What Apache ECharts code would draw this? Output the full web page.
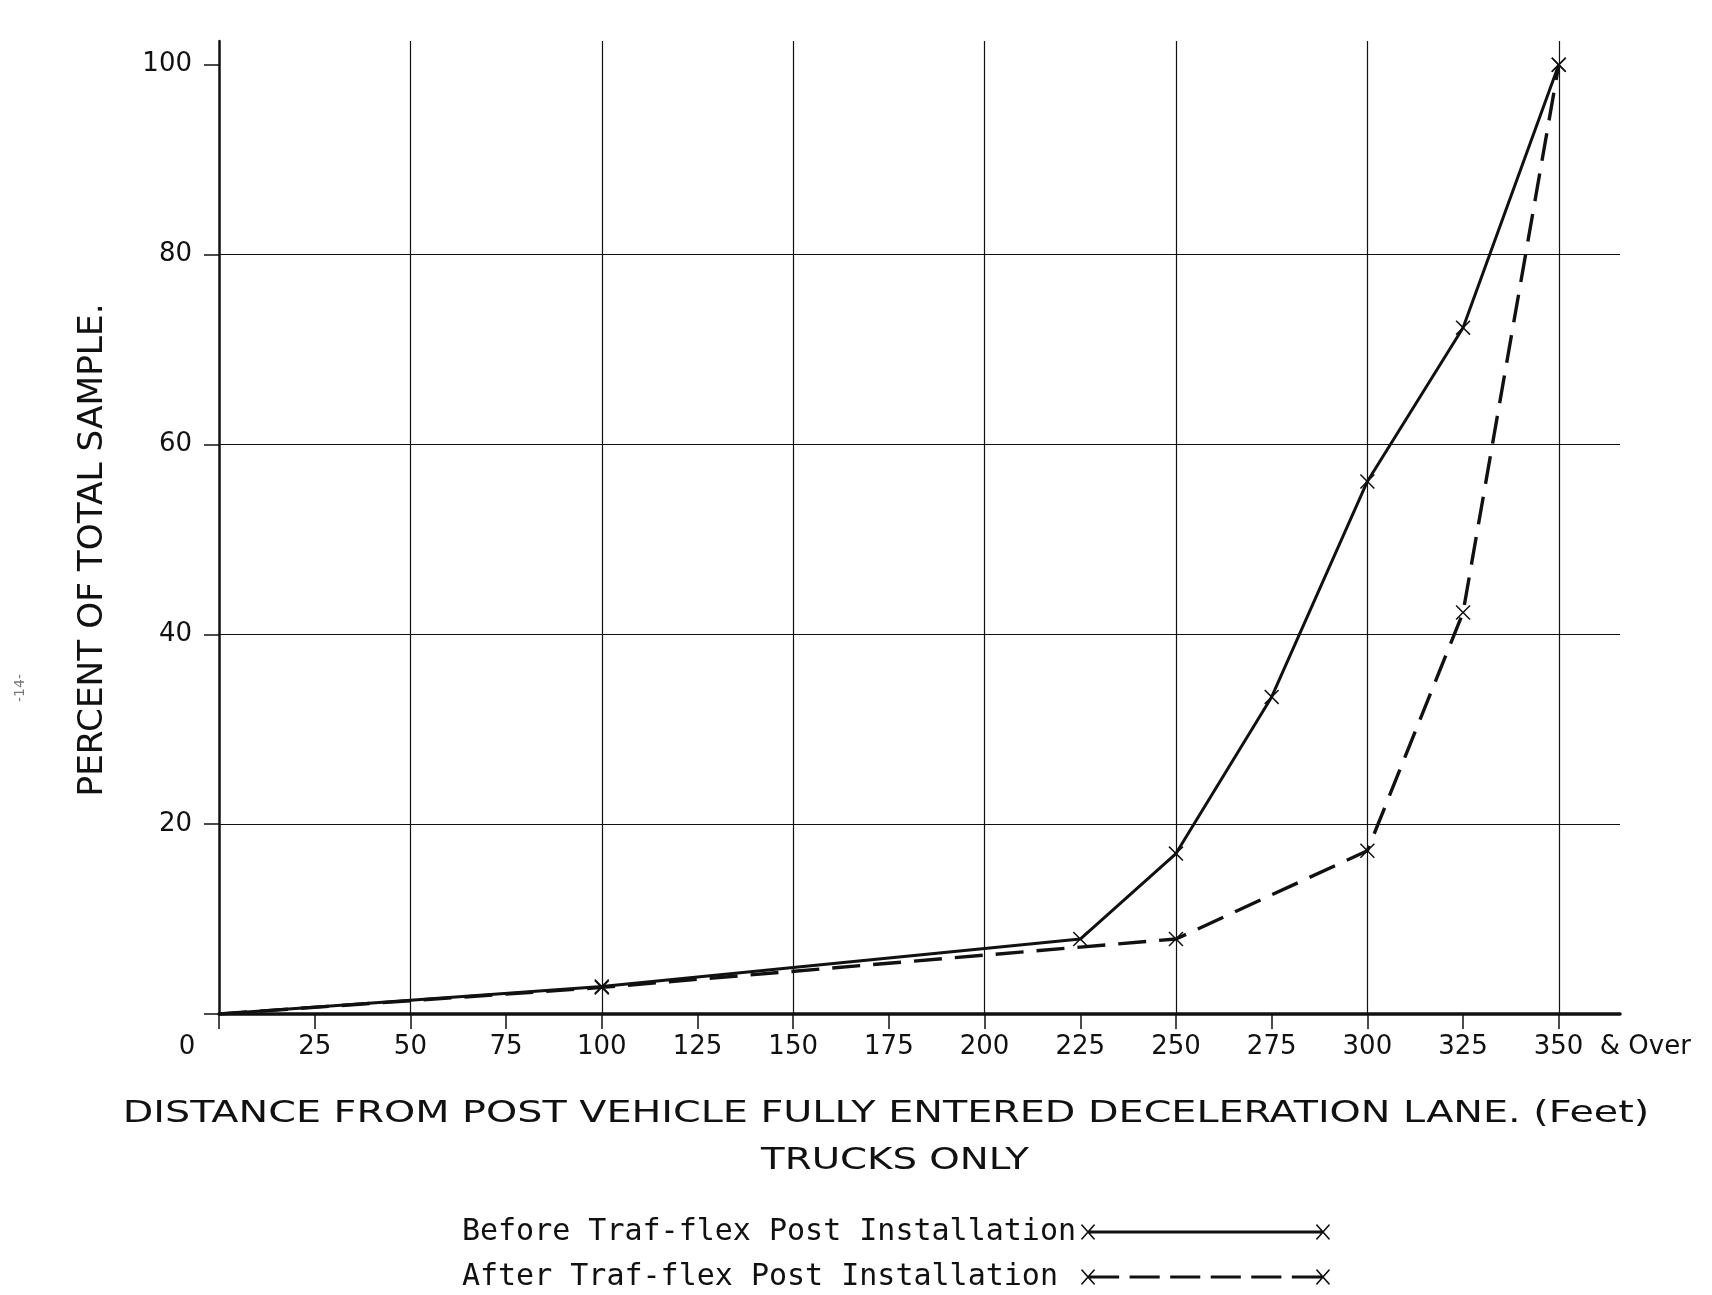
<!DOCTYPE html>
<html>
<head>
<meta charset="utf-8">
<title>Trucks only - distance from post</title>
<script src="https://cdn.jsdelivr.net/npm/echarts@6/dist/echarts.min.js"></script>
<style>
  html, body { margin: 0; padding: 0; background: #fff; }
  #chart { width: 1712px; height: 1295px; }
</style>
</head>
<body>
<div id="chart"></div>
<script>
// values (percent of total sample)
var beforeDist = [0, 100, 225, 250, 275, 300, 325, 350];
var beforePct  = [0, 2.9, 7.9, 16.9, 33.4, 56.1, 72.3, 100];
var afterDist  = [0, 100, 250, 300, 325, 350];
var afterPct   = [0, 2.8, 7.9, 17.2, 42.3, 100];

var xTicks = [0, 25, 50, 75, 100, 125, 150, 175, 200, 225, 250, 275, 300, 325, 350];
var yTicks = [0, 20, 40, 60, 80, 100];
var yLabels = [20, 40, 60, 80, 100];

var seriesNames = ['Before Traf-flex Post Installation', 'After Traf-flex Post Installation'];
var xTitle = 'DISTANCE FROM POST VEHICLE FULLY ENTERED DECELERATION LANE. (Feet)';
var xSubTitle = 'TRUCKS ONLY';
var yTitle = 'PERCENT OF TOTAL SAMPLE.';

var INK = '#111';
var FONT = 'DejaVu Sans';
var LABEL_SIZE = 26;

// "x" marker as a filled outline
function crossAt(cx, cy) {
    var p = [[-7,-6],[-6,-7],[0,-1],[6,-7],[7,-6],[1,0],[7,6],[6,7],[0,1],[-6,7],[-7,6],[-1,0]];
    return 'M' + p.map(function (d) { return (cx + d[0]) + ',' + (cy + d[1]); }).join('L') + 'Z';
}
var CROSS = 'path://' + crossAt(8, 8);

function legendIcon(dashed) {
    var s = crossAt(8, 8) + crossAt(242, 8);
    if (!dashed) {
        s += 'M9,6.7H241V9.3H9Z';
    } else {
        for (var i = 0; i < 6; i++) {
            var a = 9 + i * 40.4;
            s += 'M' + a + ',6.6H' + (a + 30) + 'V9.4H' + a + 'Z';
        }
    }
    return 'path://' + s;
}

function pairs(xs, ys) {
    return xs.map(function (x, i) { return [x, ys[i]]; });
}

function markerFor(value) {
    return value[0] === 0 ? 'none' : CROSS;
}

var chart = echarts.init(document.getElementById('chart'), null, { renderer: 'canvas' });

var option = {
    backgroundColor: '#fff',
    animation: false,
    grid: { left: 219, right: 92, top: 41, bottom: 281, outerBoundsMode: 'none' },
    legend: {
        orient: 'vertical',
        right: 382,
        top: 1217,
        padding: 0,
        itemGap: 15,
        itemWidth: 249,
        itemHeight: 16,
        align: 'right',
        symbolKeepAspect: false,
        selectedMode: false,
        itemStyle: { color: INK, borderWidth: 0 },
        textStyle: { fontFamily: 'DejaVu Sans Mono', fontSize: 30, color: INK },
        formatter: function (name) { return name.padEnd(34, ' '); },
        data: [
            { name: seriesNames[0], icon: legendIcon(false) },
            { name: seriesNames[1], icon: legendIcon(true) }
        ]
    },
    xAxis: [
        {
            type: 'value',
            min: 0,
            max: 366,
            interval: 25,
            axisLine: { show: true, onZero: false, lineStyle: { color: INK, width: 3.5 } },
            axisTick: { show: true, customValues: xTicks, length: 15, lineStyle: { color: INK, width: 1.5 } },
            axisLabel: {
                customValues: xTicks,
                margin: 20,
                fontFamily: FONT,
                fontSize: LABEL_SIZE,
                color: INK,
                formatter: function (v) {
                    if (v === 0) return '{z|0}';
                    if (v === 350) return '{a|350}{b|  & Over}';
                    return String(v);
                },
                rich: {
                    z: { padding: [0, 64, 0, 0], fontFamily: FONT, fontSize: LABEL_SIZE, color: INK },
                    a: { padding: [0, 0, 0, 107], fontFamily: FONT, fontSize: LABEL_SIZE, color: INK },
                    b: { fontFamily: FONT, fontSize: LABEL_SIZE, color: INK }
                }
            },
            splitLine: { show: false }
        },
        {
            // carries only the vertical grid lines every 50 ft
            type: 'value',
            min: 0,
            max: 366,
            interval: 50,
            axisLine: { show: false },
            axisTick: { show: false },
            axisLabel: { show: false },
            splitLine: { show: true, showMinLine: false, showMaxLine: false, lineStyle: { color: INK, width: 1.2 } }
        }
    ],
    yAxis: {
        type: 'value',
        min: 0,
        max: 102.5,
        interval: 20,
        axisLine: { show: true, lineStyle: { color: INK, width: 2.5 } },
        axisTick: { show: true, customValues: yTicks, length: 15, lineStyle: { color: INK, width: 1.5 } },
        axisLabel: { customValues: yLabels, margin: 27, fontFamily: FONT, fontSize: LABEL_SIZE, color: INK },
        splitLine: { show: true, showMinLine: false, showMaxLine: false, lineStyle: { color: INK, width: 1.2 } }
    },
    series: [
        {
            name: seriesNames[0],
            type: 'line',
            xAxisIndex: 0,
            data: pairs(beforeDist, beforePct),
            symbol: markerFor,
            symbolSize: 15,
            itemStyle: { color: INK, borderWidth: 0 },
            lineStyle: { color: INK, width: 3 },
            emphasis: { disabled: true },
            z: 4
        },
        {
            name: seriesNames[1],
            type: 'line',
            xAxisIndex: 0,
            data: pairs(afterDist, afterPct),
            symbol: markerFor,
            symbolSize: 15,
            itemStyle: { color: INK, borderWidth: 0 },
            lineStyle: { color: INK, width: 3.4, type: [28, 13] },
            emphasis: { disabled: true },
            z: 3
        }
    ],
    graphic: [
        {
            type: 'text', x: 886, y: 1114, scaleX: 1.28,
            style: { text: xTitle, fontFamily: FONT, fontSize: 31, fill: INK,
                     align: 'center', verticalAlign: 'middle', textAlign: 'center', textVerticalAlign: 'middle' }
        },
        {
            type: 'text', x: 895, y: 1161, scaleX: 1.25,
            style: { text: xSubTitle, fontFamily: FONT, fontSize: 31, fill: INK,
                     align: 'center', verticalAlign: 'middle', textAlign: 'center', textVerticalAlign: 'middle' }
        },
        {
            type: 'text', x: 93, y: 550, rotation: Math.PI / 2, scaleX: 1.04,
            style: { text: yTitle, fontFamily: FONT, fontSize: 33, fill: INK,
                     align: 'center', verticalAlign: 'middle', textAlign: 'center', textVerticalAlign: 'middle' }
        },
        {
            type: 'text', x: 20, y: 688, rotation: Math.PI / 2,
            style: { text: '-14-', fontFamily: FONT, fontSize: 14, fill: '#777',
                     align: 'center', verticalAlign: 'middle', textAlign: 'center', textVerticalAlign: 'middle' }
        }
    ]
};

chart.setOption(option);
</script>
</body>
</html>
